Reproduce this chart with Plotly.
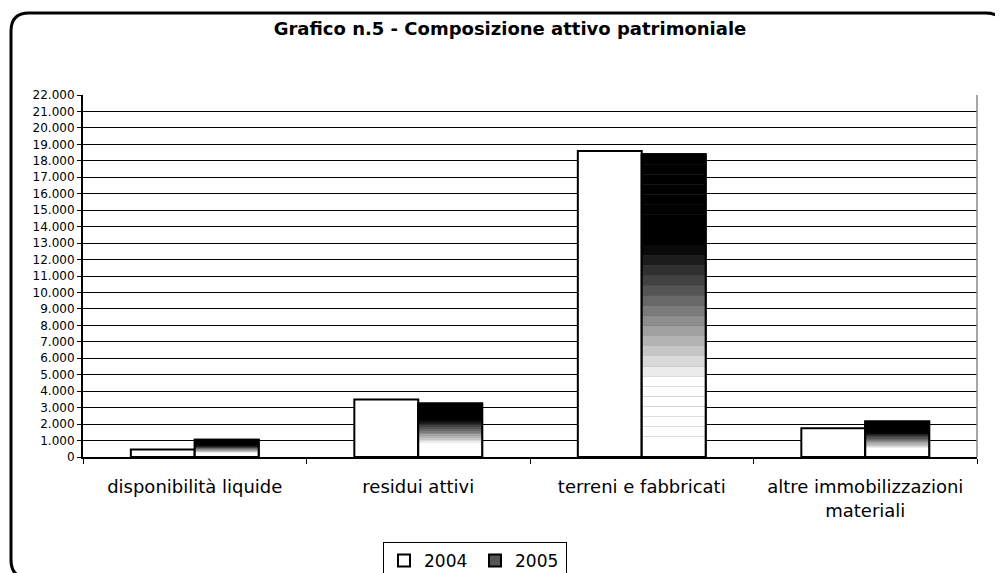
import plotly.graph_objects as go

# ---- data ----
categories = ["disponibilità liquide", "residui attivi", "terreni e fabbricati",
              "altre immobilizzazioni<br>materiali"]
values_2004 = [450, 3500, 18600, 1750]
values_2005 = [1050, 3250, 18400, 2150]
series_names = ["2004", "2005"]
title_text = "<b>Grafico n.5 - Composizione attivo patrimoniale</b>"

# ---- layout geometry (page pixels; page has an 8px body margin) ----
OX, OY = 8, 8
W, H = 1003 - OX, 573 - OY
PL, PR, PT, PB = 83, 977, 95, 457        # plot area on the page
L, T = PL - OX, PT - OY
R, B = W - (PR - OX), H - (PB - OY)
PW, PH = PR - PL, PB - PT


def px(x):
    return (x - PL) / PW


def py(y):
    return (PB - y) / PH


FONT = "DejaVu Sans, Verdana, sans-serif"
BW = 0.286  # bar width in category units

fig = go.Figure()

fig.add_trace(go.Bar(
    x=categories, y=values_2004, name=series_names[0],
    width=BW, offset=-BW,
    marker=dict(color="white", line=dict(color="black", width=2)),
))

fig.add_trace(go.Bar(
    x=categories, y=values_2005, name=series_names[1],
    width=BW, offset=0,
    marker=dict(color="#555555", line=dict(color="black", width=2)),
))

N = 30
for i in range(N):
    t = (i + 0.5) / N
    g = min(max((t - 0.25) / 0.45, 0.0), 1.0)
    lvl = int(round(255 * (1 - g)))
    col = f"rgb({lvl},{lvl},{lvl})"
    fig.add_trace(go.Bar(
        x=categories,
        y=[v / N for v in values_2005],
        base=[v * i / N for v in values_2005],
        width=BW, offset=0,
        marker=dict(color=col, line=dict(width=0)),
        showlegend=False, hoverinfo="skip",
    ))

fig.add_trace(go.Bar(
    x=categories, y=values_2005,
    width=BW, offset=0,
    marker=dict(color="rgba(0,0,0,0)", line=dict(color="black", width=2)),
    showlegend=False, hoverinfo="skip",
))

# outer rounded frame
xl, xr, yt, yb = px(11), px(1004), py(13), py(578)
rx, ry = 18 / PW, 18 / PH
frame = (f"M {xl+rx},{yt} L {xr-rx},{yt} Q {xr},{yt} {xr},{yt-ry} "
         f"L {xr},{yb+ry} Q {xr},{yb} {xr-rx},{yb} "
         f"L {xl+rx},{yb} Q {xl},{yb} {xl},{yb+ry} "
         f"L {xl},{yt-ry} Q {xl},{yt} {xl+rx},{yt} Z")

fig.update_layout(
    width=W, height=H,
    margin=dict(l=L, r=R, t=T, b=B),
    paper_bgcolor="white", plot_bgcolor="white",
    barmode="overlay",
    separators=",.",
    font=dict(family=FONT, color="black"),
    title=dict(text=title_text, x=(510 - OX) / W, xanchor="center",
               y=1 - (29 - OY) / H, yanchor="middle", xref="container", yref="container",
               font=dict(size=18, family=FONT, color="black")),
    xaxis=dict(showgrid=False, showline=True, linecolor="black", linewidth=1.5,
               ticks="outside", tickson="boundaries", ticklen=5, tickcolor="black",
               tickfont=dict(size=18, family=FONT), ticklabelstandoff=13),
    yaxis=dict(range=[0, 22000], dtick=1000, tickformat=",",
               showgrid=True, gridcolor="black", gridwidth=1,
               showline=True, linecolor="black", linewidth=2,
               ticks="outside", ticklen=4, tickcolor="black",
               tickfont=dict(size=12, family=FONT), zeroline=False),
    legend=dict(orientation="h", xref="container", yref="container",
                x=(383 - OX) / W, xanchor="left", y=1 - (542 - OY) / H, yanchor="top",
                bordercolor="black", borderwidth=1, bgcolor="white",
                font=dict(size=17, family=FONT), itemwidth=30,
                entrywidth=46, entrywidthmode="pixels"),
    shapes=[
        dict(type="line", xref="paper", yref="paper", x0=1, x1=1, y0=0, y1=1,
             line=dict(color="#888888", width=1.5)),
        dict(type="path", xref="paper", yref="paper", path=frame,
             line=dict(color="black", width=3), layer="above"),
    ],
)

fig.write_html("out.html")
